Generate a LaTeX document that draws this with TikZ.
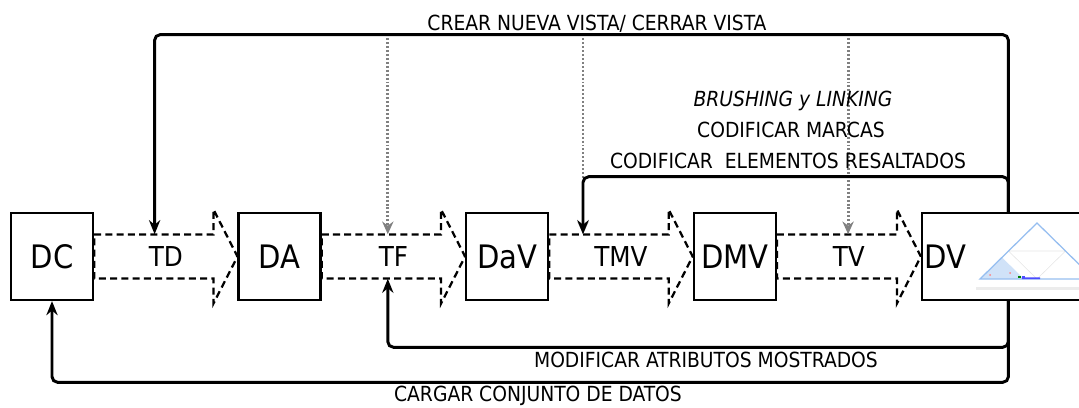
\documentclass[tikz,border=0pt]{standalone}
\usepackage{fontspec}
\setmainfont{DejaVu Sans Condensed}
\usetikzlibrary{calc,arrows.meta}
\definecolor{plotblue}{RGB}{150,190,240}

\begin{document}
\begin{tikzpicture}[
  box/.style={draw, line width=1.6pt, minimum width=2.05cm, minimum height=2.175cm, inner sep=0pt, font=\fontsize{23}{26}\selectfont},
  stage/.style={minimum width=3.6cm, minimum height=1.1cm, inner sep=0pt, font=\fontsize{19.5}{22}\selectfont},
  flow/.style={line width=1.6pt, dash pattern=on 5pt off 3pt},
  link/.style={line width=2.1pt, rounded corners=4pt, -{Stealth[length=10pt,width=8pt]}},
  hint/.style={line width=2pt, gray, dash pattern=on 1.4pt off 1.4pt, -{Stealth[length=9pt,width=8pt]}},
  note/.style={anchor=base, inner sep=0.5pt, font=\fontsize{14.8}{17}\selectfont}
]
  \useasboundingbox (0,0) rectangle (26.975,10.175);

  \node[box] (dc) at (1.3, 3.7625) {DC};
  \node[box] (da) at (6.99, 3.7625) {DA};
  \node[box] (dav) at (12.68, 3.7625) {DaV};
  \node[box] (dmv) at (18.37, 3.7625) {DMV};
  \node[box, text width=4.2cm, inner xsep=0.06cm, align=left] (dv) at (25.21, 3.7625) {DV};

  % vista ternaria dentro de DV
  \fill[gray!15] (24.4,2.92) rectangle (27.4,3.0);
  \fill[plotblue!45] (24.5,3.2) -- (25.05,3.74) -- (25.6,3.2) -- cycle;
  \draw[gray!20, line width=0.4pt] (25.2125,3.9) -- (26.6375,3.9) (25.2125,3.9) -- (25.925,3.2) -- (26.6375,3.9);
  \draw[plotblue, line width=0.9pt] (24.5,3.2) -- (25.925,4.6) -- (27.35,3.2) -- cycle;
  \fill[blue!70] (25.55,3.2) rectangle (25.62,3.27) (25.62,3.2) rectangle (26.0,3.24);
  \fill[green!50!black] (25.45,3.22) rectangle (25.52,3.28);
  \fill[red!50] (24.75,3.3) circle (0.025) (25.25,3.35) circle (0.025);

  \node[stage] (td) at ($(dc)!0.5!(da)$) {TD};
  \node[stage] (tf) at ($(da)!0.5!(dav)$) {TF};
  \node[stage] (tmv) at ($(dav)!0.5!(dmv)$) {TMV};
  \node[stage] (tv) at ($(dmv.east)!0.5!(dv.west)$) {TV};

  \draw[flow] ($(dc.east)+(0,0.55)$) -- ($(da.west)+(-0.6,0.55)$) -- ++(0,0.625) -- (da.west) -- ($(da.west)+(-0.6,-1.175)$) -- ++(0,0.625) -- ($(dc.east)+(0,-0.55)$) -- cycle;
  \draw[flow] ($(da.east)+(0,0.55)$) -- ($(dav.west)+(-0.6,0.55)$) -- ++(0,0.625) -- (dav.west) -- ($(dav.west)+(-0.6,-1.175)$) -- ++(0,0.625) -- ($(da.east)+(0,-0.55)$) -- cycle;
  \draw[flow] ($(dav.east)+(0,0.55)$) -- ($(dmv.west)+(-0.6,0.55)$) -- ++(0,0.625) -- (dmv.west) -- ($(dmv.west)+(-0.6,-1.175)$) -- ++(0,0.625) -- ($(dav.east)+(0,-0.55)$) -- cycle;
  \draw[flow] ($(dmv.east)+(0,0.55)$) -- ($(dv.west)+(-0.6,0.55)$) -- ++(0,0.625) -- (dv.west) -- ($(dv.west)+(-0.6,-1.175)$) -- ++(0,0.625) -- ($(dmv.east)+(0,-0.55)$) -- cycle;

  \draw[hint] ($(tf.north)+(-0.14,4.9)$) -- ($(tf.north)+(-0.14,0)$);
  \draw[hint] ($(tmv.north)+(-0.95,4.9)$) -- ($(tmv.north)+(-0.95,0)$);
  \draw[hint] ($(tv.north)+(-0.02,4.9)$) -- ($(tv.north)+(-0.02,0)$);

  \draw[link] (dv.north) |- ($(td.north)+(-0.28,4.99)$) -- ($(td.north)+(-0.28,0)$);
  \draw[link] (dv.north) |- ($(tmv.north)+(-0.95,1.4375)$) -- ($(tmv.north)+(-0.95,0)$);
  \draw[link] (dv.south) |- ($(tf.south)+(-0.14,-1.7125)$) -- ($(tf.south)+(-0.14,0)$);
  \draw[link] (dv.south) |- ($(dc.south)+(0,-2.03)$) -- (dc.south);

  \node[note] (crear) at (14.925, 9.42) {CREAR NUEVA VISTA/ CERRAR VISTA};
  \node[note] (brush) at (19.825, 7.525) {\itshape BRUSHING y LINKING};
  \node[note] (marcas) at (19.775, 6.75) {CODIFICAR MARCAS};
  \node[note] (resalt) at (19.7, 5.96) {CODIFICAR\ \ ELEMENTOS RESALTADOS};
  \node[note] (modif) at (17.65, 1.0) {MODIFICAR ATRIBUTOS MOSTRADOS};
  \node[note] (cargar) at (13.45, 0.15) {CARGAR CONJUNTO DE DATOS};
\end{tikzpicture}
\end{document}
